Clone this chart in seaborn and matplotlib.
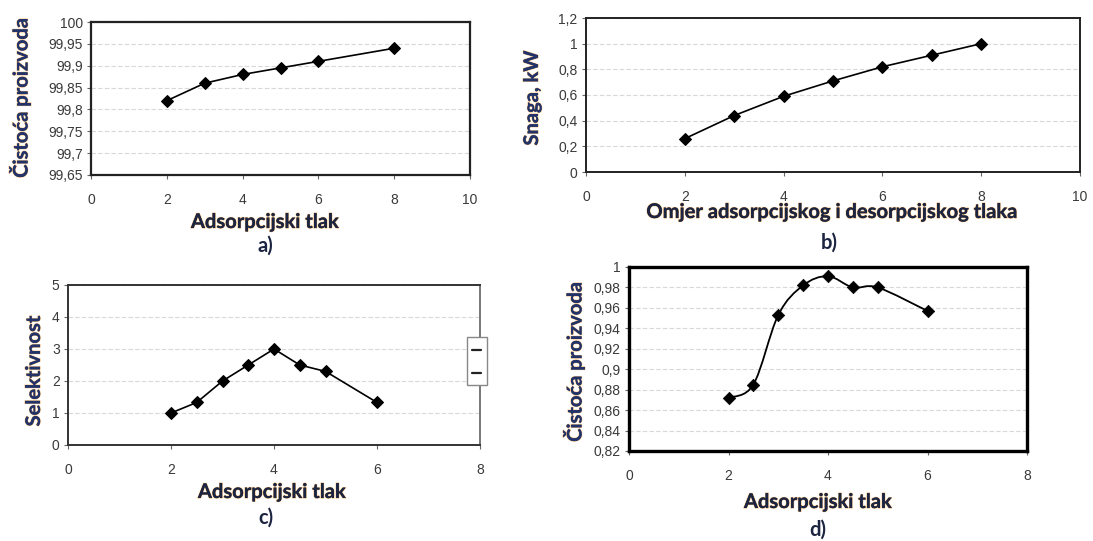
import numpy as np
import pandas as pd
import seaborn as sns
import matplotlib
matplotlib.use("Agg")
import matplotlib.pyplot as plt
from matplotlib.path import Path
from matplotlib.patches import PathPatch, Rectangle
from matplotlib.lines import Line2D
import matplotlib.patheffects as pe
from matplotlib.ticker import FuncFormatter

# ---------------- data ----------------
a_x = [2, 3, 4, 5, 6, 8]
a_y = [99.82, 99.86, 99.88, 99.895, 99.91, 99.94]
b_x = [2, 3, 4, 5, 6, 7, 8]
b_y = [0.26, 0.44, 0.59, 0.71, 0.82, 0.91, 1.0]
c_x = [2, 2.5, 3, 3.5, 4, 4.5, 5, 6]
c_y = [1.0, 1.33, 2.0, 2.5, 3.0, 2.5, 2.3, 1.33]
d_x = [2, 2.5, 3, 3.5, 4, 4.5, 5, 6]
d_y = [0.872, 0.885, 0.953, 0.982, 0.991, 0.98, 0.98, 0.957]

a_yticks = [99.65, 99.7, 99.75, 99.8, 99.85, 99.9, 99.95, 100]
b_yticks = [0, 0.2, 0.4, 0.6, 0.8, 1.0, 1.2]
c_yticks = [0, 1, 2, 3, 4, 5]
d_yticks = [0.82, 0.84, 0.86, 0.88, 0.9, 0.92, 0.94, 0.96, 0.98, 1.0]

a_xticks = [0, 2, 4, 6, 8, 10]
b_xticks = [0, 2, 4, 6, 8, 10]
c_xticks = [0, 2, 4, 6, 8]
d_xticks = [0, 2, 4, 6, 8]

xlabel_a = "Adsorpcijski tlak"
xlabel_b = "Omjer adsorpcijskog i desorpcijskog tlaka"
xlabel_c = "Adsorpcijski tlak"
xlabel_d = "Adsorpcijski tlak"
ylabel_a = "Čistoća proizvoda"
ylabel_b = "Snaga, kW"
ylabel_c = "Selektivnost"
ylabel_d = "Čistoća proizvoda"
captions = ["a)", "b)", "c)", "d)"]

# ---------------- figure ----------------
sns.set_theme(style="white")
plt.rcParams['font.family'] = ['Liberation Sans', 'DejaVu Sans']

W, H = 1093, 541
fig = plt.figure(figsize=(W / 100, H / 100), dpi=100)
fig.patch.set_facecolor("white")


def add_ax(left, right, top, bottom):
    return fig.add_axes([left / W, 1 - bottom / H, (right - left) / W, (bottom - top) / H])


def comma_fmt(v, pos):
    s = ("%.2f" % v).rstrip("0").rstrip(".")
    return s.replace(".", ",")


label_font = dict(family=['Lato', 'DejaVu Sans'], fontweight='bold', fontsize=14.5, color='#1b2440')
ylabel_font = dict(family=['Lato', 'DejaVu Sans'], fontweight='bold', fontsize=14.5, color='#22336a')
halo = [pe.withStroke(linewidth=0.9, foreground='#f0b060', alpha=0.8)]


def style(ax, xt, yt, spine_lw, spine_col):
    ax.set_xticks(xt)
    ax.set_yticks(yt)
    ax.set_xlim(xt[0], xt[-1])
    ax.set_ylim(yt[0], yt[-1])
    ax.yaxis.set_major_formatter(FuncFormatter(comma_fmt))
    ax.xaxis.set_major_formatter(FuncFormatter(comma_fmt))
    ax.tick_params(axis='both', which='major', length=3, width=0.8, color='#666666',
                   labelsize=10, labelcolor='#3a3a3a', direction='out',
                   bottom=True, left=True)
    ax.tick_params(axis='x', pad=10)
    ax.tick_params(axis='y', pad=3)
    for sp in ax.spines.values():
        sp.set_linewidth(spine_lw)
        sp.set_color(spine_col)
    ax.yaxis.grid(True, color='#d8d8d8', linestyle=(0, (4, 2)), linewidth=0.8)
    ax.xaxis.grid(False)
    ax.set_xlabel("")
    ax.set_ylabel("")
    ax.set_facecolor("white")


def plot_series(ax, x, y):
    df = pd.DataFrame({"x": x, "y": y})
    sns.lineplot(data=df, x="x", y="y", ax=ax, color='black', linewidth=1.2,
                 marker='D', markersize=6, markeredgecolor='black', markerfacecolor='black')


# panel a
ax_a = add_ax(91, 470, 22, 175)
plot_series(ax_a, a_x, a_y)
style(ax_a, a_xticks, a_yticks, 1.6, '#222222')

# panel b
ax_b = add_ax(586, 1080, 18, 172)
plot_series(ax_b, b_x, b_y)
style(ax_b, b_xticks, b_yticks, 1.4, '#222222')

# panel c
ax_c = add_ax(68, 480, 285, 445)
plot_series(ax_c, c_x, c_y)
style(ax_c, c_xticks, c_yticks, 1.4, '#333333')
ax_c.spines['right'].set_color('#777777')

# panel d (smoothed line, Excel style)
ax_d = add_ax(629, 1027, 267, 451)
xs = np.array(d_x, dtype=float)
ys = np.array(d_y, dtype=float)
verts = [(xs[0], ys[0])]
codes = [Path.MOVETO]
n = len(xs)
for i in range(n - 1):
    p0 = (xs[max(i - 1, 0)], ys[max(i - 1, 0)])
    p1 = (xs[i], ys[i])
    p2 = (xs[i + 1], ys[i + 1])
    p3 = (xs[min(i + 2, n - 1)], ys[min(i + 2, n - 1)])
    t = 1 / 6
    c1 = (p1[0] + (p2[0] - p0[0]) * t, p1[1] + (p2[1] - p0[1]) * t)
    c2 = (p2[0] - (p3[0] - p1[0]) * t, p2[1] - (p3[1] - p1[1]) * t)
    verts += [c1, c2, p2]
    codes += [Path.CURVE4] * 3
ax_d.add_patch(PathPatch(Path(verts, codes), facecolor='none', edgecolor='black', linewidth=1.3, zorder=3))
sns.scatterplot(x=d_x, y=d_y, ax=ax_d, marker='D', s=40, color='black', edgecolor='black', zorder=4)
style(ax_d, d_xticks, d_yticks, 2.4, '#000000')

# ---------------- labels ----------------
def ftext(x, y, s, **kw):
    return fig.text(x / W, 1 - y / H, s, ha='center', va='center', **kw)

for (x, y, s) in [(265, 222, xlabel_a), (832, 212, xlabel_b), (272, 492, xlabel_c), (818, 502, xlabel_d)]:
    t = ftext(x, y, s, **label_font)
    t.set_path_effects(halo + [pe.Normal()])
for (x, y, s) in [(265, 246, captions[0]), (829, 243, captions[1]), (266, 518, captions[2]), (818, 530, captions[3])]:
    ftext(x, y, s, **label_font)

for (x, y, s) in [(20, 98, ylabel_a), (532, 98, ylabel_b), (34, 371, ylabel_c), (574, 362, ylabel_d)]:
    t = ftext(x, y, s, rotation=90, **ylabel_font)
    t.set_path_effects(halo + [pe.Normal()])

# cropped legend stub on the right of panel c
fig.patches.append(Rectangle((467 / W, 1 - 385 / H), 20 / W, 48 / H, transform=fig.transFigure,
                             facecolor='white', edgecolor='#888888', linewidth=1.0, zorder=10))
fig.lines.append(Line2D([472 / W, 481 / W], [1 - 350 / H, 1 - 350 / H], transform=fig.transFigure,
                        color='#222222', linewidth=1.6, zorder=11))
fig.lines.append(Line2D([472 / W, 481 / W], [1 - 373 / H, 1 - 373 / H], transform=fig.transFigure,
                        color='#222222', linewidth=1.6, zorder=11))

fig.savefig("out.png", dpi=100, facecolor='white')
